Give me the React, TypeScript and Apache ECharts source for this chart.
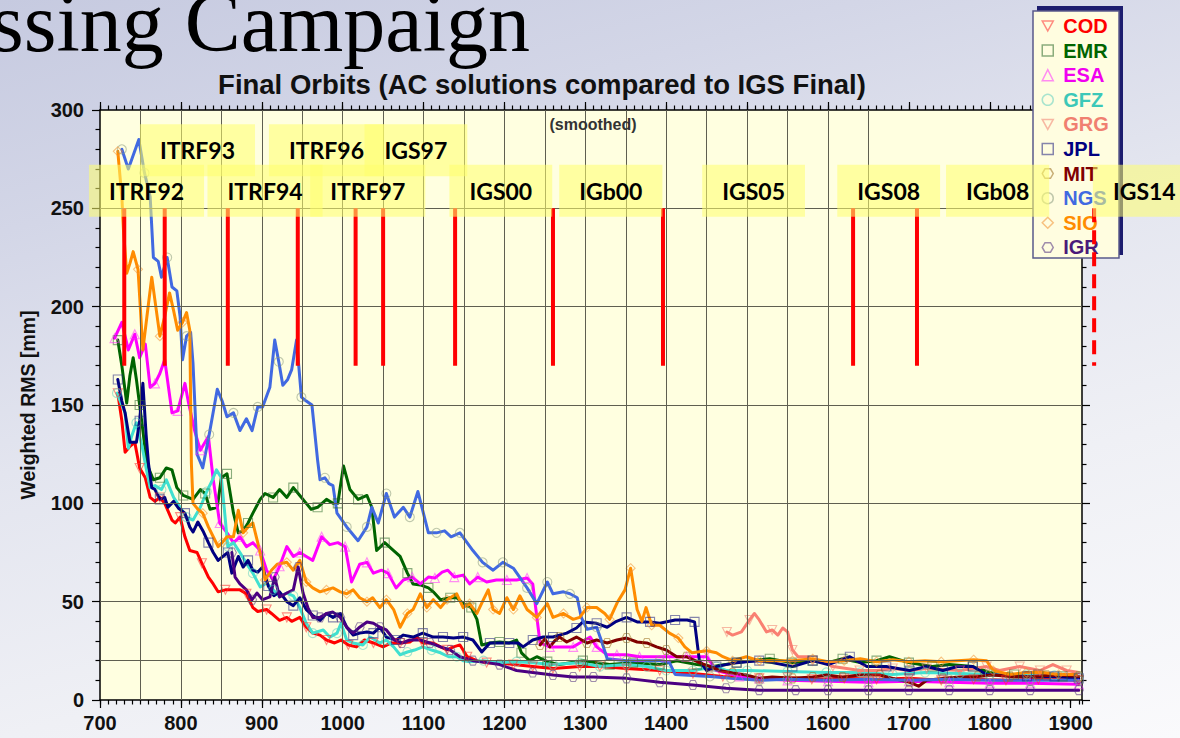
import React, { useEffect, useRef } from "react";
import * as echarts from "echarts";

// ---------------- DATA ----------------
const AC_NAMES = ["COD", "EMR", "ESA", "GFZ", "GRG", "JPL", "MIT", "NGS", "SIO", "IGR"];

// [GPS week, weighted RMS mm]
const COD: [number, number][] = [[722,156],[727,142],[731,126],[737,129],[743,131],[749,118],[756,113],[762,103],[768,101],[774,103],[780,100],[789,91.5],[793,90],[799,93],[805,83],[811,76],[820,75],[826,69.5],[834,62.5],[840,59],[846,55],[855,56],[865,56],[873,56],[881,54],[889,47],[895,45],[906,46],[912,44],[922,40.5],[931,42],[937,40],[947,42],[955,37],[963,34],[972,33],[980,30.5],[990,29],[998,30.5],[1007,28],[1017,27],[1027,30.5],[1038,29],[1050,27],[1060,29],[1071,29],[1083,29.5],[1092,32],[1099,29],[1112,29],[1121,27],[1129,25.5],[1137,27],[1145,28],[1154,22],[1166,20],[1178,19],[1194,19],[1211,18],[1235,17],[1260,16],[1293,17],[1318,17],[1351,16],[1392,15],[1433,13.5],[1470,12],[1515,11],[1550,11.5],[1580,10.5],[1620,11],[1660,10.5],[1700,11],[1740,10],[1780,10.5],[1820,10],[1860,10.5],[1910,10]];
const EMR: [number, number][] = [[722,183],[727,170],[733,151],[737,165],[741,174],[745,163],[749,150],[753,137],[758,120],[766,112],[774,113],[782,118],[789,117],[795,108],[803,104],[815,102],[824,107],[830,105],[836,97],[845,98],[850,113],[857,115],[865,95],[871,85],[877,86],[883,90],[889,95],[898,102],[904,105],[914,103],[922,107],[931,103],[939,108],[947,104],[955,100],[961,97],[969,98],[980,102],[988,100],[994,100],[1001,119],[1009,107],[1019,102],[1030,104],[1036,98],[1042,76],[1052,80],[1063,76],[1071,73],[1080,64.5],[1087,59],[1096,58.5],[1106,57],[1112,55],[1121,51],[1133,52],[1141,52],[1149,49],[1159,47],[1166,41],[1172,28],[1182,29],[1194,29.5],[1206,29],[1215,30.5],[1221,24],[1231,20],[1240,22],[1253,19.5],[1268,18],[1297,20],[1330,18],[1359,19],[1392,18],[1413,20],[1438,18],[1458,17],[1487,19],[1507,20],[1528,21],[1555,19],[1581,20],[1600,19],[1618,21],[1640,19],[1660,20],[1676,22],[1700,19],[1729,17],[1750,18],[1779,17],[1800,14],[1830,13],[1860,13],[1890,12],[1910,12]];
const ESA: [number, number][] = [[718,184],[727,192],[735,178],[743,186],[749,174],[756,181],[762,159],[768,161],[774,166],[780,173],[789,146],[796,147],[805,161],[809,152],[817,137],[824,127],[834,134],[840,112],[848,90],[857,85],[865,80],[873,83],[881,78],[889,80],[898,76],[906,66],[914,61],[922,68],[931,78],[939,73],[947,75],[955,73],[963,71],[974,83],[984,79],[994,80],[1003,78],[1011,60],[1021,69],[1030,70],[1038,64.5],[1048,66],[1056,64.5],[1066,57],[1075,61],[1086,62.5],[1096,59],[1106,62.5],[1114,62],[1123,65],[1130,66],[1138,62.5],[1149,63.5],[1157,59],[1167,62.5],[1178,60],[1190,61],[1203,61],[1215,61],[1228,62],[1235,59],[1244,29],[1256,27],[1273,27],[1285,27],[1293,29],[1306,32],[1314,27],[1327,23],[1339,23],[1351,23],[1367,22],[1383,22],[1400,22],[1425,22],[1450,22],[1462,15],[1490,12],[1515,11],[1550,10],[1600,9.5],[1650,9],[1700,9.5],[1750,9],[1800,8.5],[1850,8.5],[1910,8]];
const GFZ: [number, number][] = [[721,156],[726,151],[731,146],[735,128],[739,134],[745,141],[752,129],[757,118],[762,108],[768,109],[776,107],[782,112],[791,103],[799,98],[807,93],[815,91.5],[824,98],[832,106],[838,111],[844,117],[850,113],[855,91.5],[858,78],[865,80],[873,75],[881,69.5],[889,64.5],[898,57.5],[906,59.5],[914,56],[922,52.5],[931,54.4],[939,53],[947,47],[955,39],[963,34],[976,35.6],[984,32],[993,34],[998,39],[1005,30.5],[1013,29],[1025,28],[1034,32],[1046,29],[1054,30.5],[1063,27],[1071,23],[1080,24.4],[1089,25.4],[1099,27],[1110,25.4],[1121,24],[1131,22],[1141,22],[1149,20],[1157,19.5],[1174,20],[1194,19],[1215,19.5],[1235,19],[1260,18],[1293,19],[1318,17],[1351,18],[1376,17],[1400,15],[1433,15],[1462,17],[1474,15],[1500,15],[1550,14.5],[1598,14],[1640,14],[1680,13],[1720,14],[1763,13.5],[1800,13],[1846,13],[1880,12.5],[1910,12]];
const GRG: [number, number][] = [[1475,34.6],[1482,33],[1493,34.6],[1503,40.7],[1509,44],[1515,40.7],[1524,34.6],[1531,35.6],[1538,33],[1544,36.6],[1550,34.6],[1556,25.4],[1563,22],[1574,22],[1581,20],[1594,19.5],[1606,17],[1623,16],[1639,15],[1660,15],[1680,16],[1700,15],[1722,16],[1745,15.5],[1763,15],[1780,16],[1796,17],[1812,15],[1837,17],[1862,15],[1878,18],[1895,15],[1910,14]];
const JPL: [number, number][] = [[722,163],[727,152],[731,146],[737,131],[745,131],[749,142],[753,161],[757,135],[760,120],[764,108],[768,107],[774,102],[780,103],[784,98],[791,101],[797,97.5],[805,95],[811,88],[815,85.4],[821,90.5],[828,85.4],[834,80],[840,75],[846,71],[852,73],[858,75],[863,64.5],[871,73],[877,67.6],[883,71],[889,66],[895,65],[901,67.6],[908,58],[915,53],[922,55],[931,50],[939,48],[947,52],[955,46],[963,43],[972,40.5],[980,44],[988,42],[997,44],[1005,37],[1013,33],[1021,34],[1030,34.6],[1038,34],[1046,37],[1054,32],[1066,30.5],[1075,33],[1087,32],[1099,34],[1112,32],[1124,32],[1137,31.5],[1149,32],[1161,30.5],[1172,24.4],[1182,29],[1194,29],[1206,29],[1217,29],[1223,27],[1235,30.5],[1248,32],[1260,32],[1277,34],[1289,36.6],[1297,39.7],[1314,39],[1327,37],[1337,39.7],[1351,42],[1364,39.7],[1380,39.7],[1392,39],[1411,40.7],[1426,40.7],[1435,39.7],[1441,20],[1450,15],[1462,17],[1474,18],[1487,19],[1499,19.5],[1515,20],[1531,19],[1556,17],[1581,20],[1600,18],[1627,22],[1648,17],[1672,17],[1701,15],[1722,17],[1742,15],[1760,17],[1779,17],[1796,13],[1846,12],[1880,12],[1910,11]];
const MIT: [number, number][] = [[1244,28],[1250,31],[1256,27],[1262,30],[1268,32],[1277,29.5],[1289,32],[1302,29],[1314,30.5],[1327,29],[1339,30.5],[1351,31.5],[1364,29.5],[1376,29],[1388,27],[1400,25.4],[1413,22],[1425,22],[1441,19],[1454,17],[1466,15],[1482,13.7],[1499,12.7],[1515,11],[1531,11.7],[1556,11],[1581,11.7],[1598,12.7],[1618,11.7],[1639,12.7],[1664,12.7],[1680,11],[1701,9],[1712,7],[1722,10],[1742,11],[1763,11.7],[1785,12],[1804,12.7],[1825,12],[1846,11.7],[1870,12.5],[1887,12.7],[1910,12]];
const NGS: [number, number][] = [[727,280],[735,270],[748,285],[755,268],[762,256],[766,225],[772,223],[776,215],[783,225],[789,210],[795,208],[799,195],[802,173],[807,185],[812,187],[815,171],[820,125],[827,118],[835,135],[845,158],[851,152],[857,144],[865,146],[873,137],[881,143],[888,137],[895,149],[901,149],[910,159],[916,183],[921,172],[926,160],[932,163],[937,168],[943,183],[949,154],[955,152],[962,150],[969,122],[972,112],[978,113],[983,110],[988,109],[993,95],[1005,88],[1019,81],[1030,88],[1036,98],[1044,90],[1054,105],[1064,93],[1075,98],[1083,93],[1093,106],[1106,85],[1116,85],[1126,86],[1134,83],[1145,85],[1161,76],[1173,70],[1186,66],[1198,70],[1211,67],[1228,57],[1240,49],[1253,60],[1260,54],[1273,55],[1281,54],[1290,52],[1295,42],[1302,36],[1314,37],[1320,30],[1327,21],[1351,20],[1392,20],[1404,19],[1411,13],[1454,12],[1480,11],[1515,10],[1550,10.5],[1600,10],[1650,10.5],[1700,10],[1750,10.5],[1800,10],[1850,10],[1910,10]];
const SIO: [number, number][] = [[722,279],[725,265],[727,256],[729,239],[733,217],[737,222],[741,228],[747,219],[753,178],[758,195],[764,215],[769,200],[774,185],[780,195],[786,207],[791,198],[796,188],[802,192],[807,197],[811,188],[813,120],[815,100],[821,97],[827,95],[834,88],[840,83],[846,78],[851,80],[857,83],[865,83],[871,96.5],[877,85],[883,88],[889,90],[895,80],[900,71],[904,61],[912,66],[919,69],[931,70],[939,66],[947,71],[955,60],[963,57],[972,55],[980,56],[988,57],[997,55],[1005,54],[1013,56],[1021,52],[1030,50],[1037,52],[1046,47],[1054,51],[1063,46],[1071,37],[1080,44],[1087,46],[1096,54],[1104,47],[1112,51],[1121,47],[1129,51],[1141,54],[1149,47],[1157,49],[1166,44],[1174,51],[1180,56],[1186,46],[1194,44],[1203,52],[1211,46],[1219,53],[1228,46],[1240,42],[1253,49],[1260,42],[1273,44],[1285,41],[1293,42],[1302,47],[1314,47],[1324,44],[1330,41],[1340,50],[1349,56],[1356,67],[1364,46],[1370,40],[1375,47],[1382,38],[1392,38],[1404,34],[1415,31.5],[1423,27],[1432,24],[1450,25],[1462,24],[1470,22],[1482,20],[1499,22],[1515,20],[1531,20],[1556,20],[1581,21],[1600,19.5],[1620,20],[1640,21],[1660,19.5],[1680,20.5],[1700,19.5],[1720,20],[1740,19.5],[1760,20],[1780,20.5],[1796,20],[1804,15],[1825,13],[1845,14],[1865,14],[1885,13],[1907,13]];
const IGR: [number, number][] = [[863,75],[867,62.5],[873,59],[881,56],[888,51],[894,54.4],[901,51],[910,52.4],[916,62.5],[922,52.4],[931,54.4],[939,56],[945,67.6],[951,54.4],[957,47],[963,42],[972,42],[980,44],[988,44.7],[997,42],[1005,37],[1013,34],[1021,37],[1030,39.7],[1038,39],[1046,37],[1054,35.6],[1064,30.5],[1073,29],[1083,30.5],[1096,30.5],[1108,29],[1121,27],[1133,25.4],[1145,22],[1161,20],[1178,19],[1194,18],[1215,15],[1235,14],[1260,12.7],[1285,11.7],[1310,11.7],[1351,11],[1392,9],[1433,7.6],[1474,6],[1515,5],[1560,5],[1600,5],[1650,5],[1700,5],[1750,5],[1800,5],[1850,5],[1910,5]];

const SERIES_DATA = [COD, EMR, ESA, GFZ, GRG, JPL, MIT, NGS, SIO, IGR];

// reference frame changes (GPS week of switch)
const FRAME_NAMES = ["ITRF92", "ITRF93", "ITRF94", "ITRF96", "ITRF97", "IGS97", "IGS00", "IGb00", "IGS05", "IGS08", "IGb08", "IGS14"];
const FRAME_WEEKS = [730, 780, 858, 944.5, 1016, 1050, 1139, 1260, 1396, 1631, 1710, 1929];
const FRAME_FUTURE = [false, false, false, false, false, false, false, false, false, false, false, true];
// label anchor (week) and row (value) for each frame label
const FRAME_LABEL_WEEKS = [757.5, 820.5, 904, 980, 1031, 1090.5, 1195.5, 1331.5, 1508, 1675, 1809.7, 1991];
const FRAME_LABEL_VALUES = [259, 279.5, 259, 279.5, 259, 279.5, 259, 259, 259, 259, 259, 259];
const FRAME_MARK_RANGE = [250, 170];

// ---------------- STYLE ----------------
const SANS = '"Liberation Sans", Arial, Helvetica, sans-serif';
const LINE_COLORS = ["#ff0000", "#006400", "#ff00ff", "#40e0d0", "#fa8072", "#000080", "#800000", "#4169e1", "#ff8c00", "#4b0082"];
const TEXT_COLORS = ["#ff0000", "#006400", "#f000f0", "#3cc8b8", "#f08070", "#000080", "#800000", "#4169e1", "#ff8c00", "#4b1a7a"];
const MARKER_COLORS = ["#ff3030", "#2a6a2a", "#ff30ff", "#60d0c0", "#f08070", "#202080", "#9a7020", "#8a9a80", "#f09030", "#503080"];
const DOWN_TRI = "path://M0,0L10,0L5,9Z";
const HEX = "path://M2.5,0L7.5,0L10,4.33L7.5,8.66L2.5,8.66L0,4.33Z";
const SYMBOLS = [DOWN_TRI, "rect", "triangle", "circle", DOWN_TRI, "rect", HEX, "circle", "diamond", HEX];

function markerSet(data: [number, number][]) {
  const s = new Set<number>();
  let last = -1e9;
  data.forEach((p, i) => {
    if (p[0] - last >= 24) {
      s.add(i);
      last = p[0];
    }
  });
  return s;
}

function buildOption(): any {
  const gridMarks: any[] = [];
  for (let w = 750; w <= 1650; w += 50) gridMarks.push({ xAxis: w });
  [20, 50, 100, 150, 200, 250].forEach((v) => gridMarks.push({ yAxis: v }));

  const tickLine = { color: "#000", width: 1.2 };
  const xCommon = { type: "value", min: 700, max: 1914, splitLine: { show: false } };
  const yCommon = { type: "value", min: 0, max: 300, interval: 50, splitLine: { show: false } };

  const series: any[] = [
    {
      type: "line",
      name: "_grid",
      data: [[700, 0]],
      symbol: "none",
      lineStyle: { opacity: 0 },
      silent: true,
      z: 1,
      markLine: {
        silent: true,
        symbol: ["none", "none"],
        label: { show: false },
        lineStyle: { color: "#5f5f50", width: 1, type: "solid" },
        emphasis: { disabled: true },
        data: gridMarks,
      },
    },
  ];
  SERIES_DATA.forEach((d, i) => {
    const marks = markerSet(d);
    series.push({
      type: "line",
      name: AC_NAMES[i],
      data: d,
      showSymbol: true,
      symbol: (_v: any, p: any) => (marks.has(p.dataIndex) ? SYMBOLS[i] : "none"),
      symbolSize: 9,
      lineStyle: { color: LINE_COLORS[i], width: 3, cap: "round", join: "round" },
      itemStyle: { color: "rgba(0,0,0,0)", borderColor: MARKER_COLORS[i], borderWidth: 1.1, opacity: 0.55 },
      emphasis: { disabled: true },
      z: 2,
    });
  });

  return {
    animation: false,
    backgroundColor: "transparent",
    grid: { left: 100, top: 110, width: 982, height: 590, show: true, backgroundColor: "#ffffe0", borderWidth: 0 },
    legend: {
      orient: "vertical",
      left: 1041.5,
      top: 16,
      padding: 0,
      itemWidth: 11,
      itemHeight: 11,
      itemGap: 4.6,
      z: 6,
      selectedMode: false,
      textStyle: { fontFamily: SANS, fontWeight: "bold", fontSize: 20, lineHeight: 20, padding: [0, 0, 0, 5] },
      data: AC_NAMES.map((n, i) => ({
        name: n,
        icon: SYMBOLS[i],
        itemStyle: { color: "rgba(0,0,0,0)", borderColor: MARKER_COLORS[i], borderWidth: 1.5 },
        textStyle: { color: TEXT_COLORS[i] },
      })),
    },
    xAxis: [
      {
        ...xCommon,
        position: "bottom",
        interval: 100,
        axisLine: { show: true, onZero: false, lineStyle: { color: "#000", width: 1.5 } },
        axisTick: { show: true, length: 8, lineStyle: tickLine },
        axisLabel: {
          show: true, margin: 13, color: "#111", fontSize: 20, fontWeight: "bold", fontFamily: SANS,
          showMaxLabel: false, formatter: (v: number) => String(v),
        },
      },
      {
        ...xCommon,
        position: "bottom",
        interval: 10,
        axisLine: { show: false, onZero: false },
        axisTick: { show: true, length: 4.5, lineStyle: tickLine },
        axisLabel: { show: false },
      },
      {
        ...xCommon,
        position: "top",
        interval: 100,
        axisLine: { show: true, onZero: false, lineStyle: { color: "#000", width: 1.5 } },
        axisTick: { show: true, length: 8, lineStyle: tickLine },
        axisLabel: { show: false },
      },
      {
        ...xCommon,
        position: "top",
        interval: 10,
        axisLine: { show: false, onZero: false },
        axisTick: { show: true, length: 4.5, lineStyle: tickLine },
        axisLabel: { show: false },
      },
    ],
    yAxis: [
      {
        ...yCommon,
        position: "left",
        axisLine: { show: true, onZero: false, lineStyle: { color: "#000", width: 1.5 } },
        axisTick: { show: true, length: 8, lineStyle: tickLine },
        minorTick: { show: true, splitNumber: 5, length: 4.5, lineStyle: tickLine },
        axisLabel: { show: true, margin: 16, color: "#111", fontSize: 20, fontWeight: "bold", fontFamily: SANS },
      },
      {
        ...yCommon,
        position: "right",
        axisLine: { show: true, onZero: false, lineStyle: { color: "#000", width: 1.5 } },
        axisTick: { show: true, length: 8, lineStyle: tickLine },
        minorTick: { show: true, splitNumber: 5, length: 4.5, lineStyle: tickLine },
        axisLabel: { show: false },
      },
    ],
    series,
  };
}

function buildGraphics(toPx: (w: number, v: number) => number[]): any[] {
  const els: any[] = [];
  // slide heading (cut off at the slide's left edge, as in the source)
  els.push({
    type: "text", x: -9, y: 22, z: 1,
    style: { text: "ssing Campaign", font: '84px "Liberation Serif", "Times New Roman", serif', fill: "#000", align: "left", verticalAlign: "middle" },
  });
  els.push({
    type: "text", x: 542, y: 84, z: 5,
    style: { text: "Final Orbits (AC solutions compared to IGS Final)", font: `bold 27.5px ${SANS}`, fill: "#111", align: "center", verticalAlign: "middle" },
  });
  els.push({
    type: "text", x: 593, y: 124, z: 5,
    style: { text: "(smoothed)", font: `bold 16px ${SANS}`, fill: "#333", align: "center", verticalAlign: "middle" },
  });
  els.push({
    type: "text", x: 28, y: 405, z: 5, rotation: Math.PI / 2,
    style: { text: "Weighted RMS [mm]", font: `bold 19.5px ${SANS}`, fill: "#111", align: "center", verticalAlign: "middle" },
  });
  // legend frame (shadow + box)
  els.push({ type: "rect", z: 4, shape: { x: 1037, y: 6, width: 86, height: 249 }, style: { fill: "#1c1c6e" } });
  els.push({ type: "rect", z: 5, shape: { x: 1033, y: 11, width: 86, height: 247 }, style: { fill: "#fffde0", stroke: "#5a5a8a", lineWidth: 1.5 } });

  // reference frame markers
  FRAME_NAMES.forEach((name, i) => {
    const [x, y1] = toPx(FRAME_WEEKS[i], FRAME_MARK_RANGE[0]);
    const [, y2] = toPx(FRAME_WEEKS[i], FRAME_MARK_RANGE[1]);
    els.push({
      type: "line", z: 20,
      shape: { x1: x, y1, x2: x, y2 },
      style: { stroke: "#ff0000", lineWidth: 4, lineDash: FRAME_FUTURE[i] ? [14, 8] : null },
    });
  });
  FRAME_NAMES.forEach((name, i) => {
    const [lx, ly] = toPx(FRAME_LABEL_WEEKS[i], FRAME_LABEL_VALUES[i]);
    els.push({
      type: "text", z: 21, x: lx, y: ly,
      style: {
        text: name, font: 'bold 23px Lato, "Open Sans", sans-serif', fill: "#000",
        align: "center", verticalAlign: "middle", lineHeight: 28,
        backgroundColor: "rgba(255,255,110,0.55)", padding: [12, 20, 12, 20],
      },
    });
  });
  return els;
}

export default function App() {
  const ref = useRef<HTMLDivElement>(null);
  useEffect(() => {
    const el = ref.current;
    if (!el) return;
    const chart = echarts.init(el, undefined, { renderer: "svg" });
    chart.setOption(buildOption());
    const toPx = (w: number, v: number) => chart.convertToPixel({ xAxisIndex: 0, yAxisIndex: 0 }, [w, v]) as number[];
    chart.setOption({ graphic: { elements: buildGraphics(toPx) } });
    return () => chart.dispose();
  }, []);
  return (
    <div
      style={{
        position: "fixed", left: 0, top: 0, width: 1180, height: 738, overflow: "hidden",
        background: "linear-gradient(165deg, #c6cae0 0%, #d3d6e7 22%, #e3e5ef 45%, #eff0f5 70%, #fafafc 100%)",
      }}
    >
      <div ref={ref} style={{ width: 1180, height: 738 }} />
    </div>
  );
}
